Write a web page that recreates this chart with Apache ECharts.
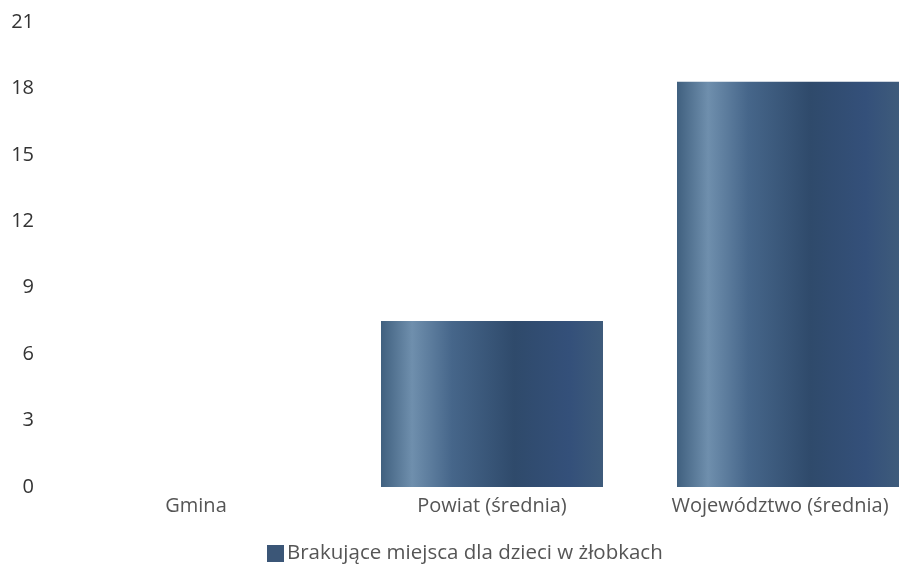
<!DOCTYPE html>
<html><head><meta charset="utf-8">
<script src="https://cdn.jsdelivr.net/npm/echarts@6/dist/echarts.min.js"></script>
<style>html,body{margin:0;padding:0;background:#fff}#c{width:900px;height:567px}</style>
</head><body><div id="c"></div>
<script>
const categories = ["Gmina", "Powiat (średnia)", "Województwo (średnia)"];
const seriesName = "Brakujące miejsca dla dzieci w żłobkach";
const values = [0, 7.5, 18.3];
const yTicks = { min: 0, max: 21, interval: 3 };

const grad = new echarts.graphic.LinearGradient(0, 0, 1, 0, [
  {offset: 0, color: '#40607f'},
  {offset: 0.14, color: '#6f8fad'},
  {offset: 0.32, color: '#46668a'},
  {offset: 0.6, color: '#2f4a6b'},
  {offset: 0.85, color: '#34507a'},
  {offset: 1, color: '#3e5b7b'}
]);
const catData = categories.map((c, i) => i === categories.length - 1
  ? { value: c, textStyle: { padding: [0, 16, 0, 0] } } : c);
const chart = echarts.init(document.getElementById('c'));
chart.setOption({
  animation: false,
  textStyle: { fontFamily: 'Open Sans' },
  grid: { left: 48, width: 888, top: 22, bottom: 80, containLabel: false, outerBoundsMode: 'none' },
  legend: {
    top: 538, left: 262, itemWidth: 17, itemHeight: 17, itemGap: 10, icon: 'rect',
    itemStyle: { color: '#3b5677' },
    textStyle: { color: '#555', fontSize: 20.5, fontFamily: 'Open Sans', padding: [0, 0, 0, -2] },
    data: [seriesName]
  },
  xAxis: {
    type: 'category', data: catData,
    axisLine: { show: false }, axisTick: { show: false },
    axisLabel: { color: '#555', fontSize: 20, margin: 9 }
  },
  yAxis: {
    type: 'value', min: yTicks.min, max: yTicks.max, interval: yTicks.interval,
    splitLine: { show: false }, axisLine: { show: false }, axisTick: { show: false },
    axisLabel: { color: '#333', fontSize: 20, margin: 14 }
  },
  series: [{
    name: seriesName, type: 'bar', data: values, barWidth: '75%',
    itemStyle: { color: grad }
  }]
});
</script></body></html>
